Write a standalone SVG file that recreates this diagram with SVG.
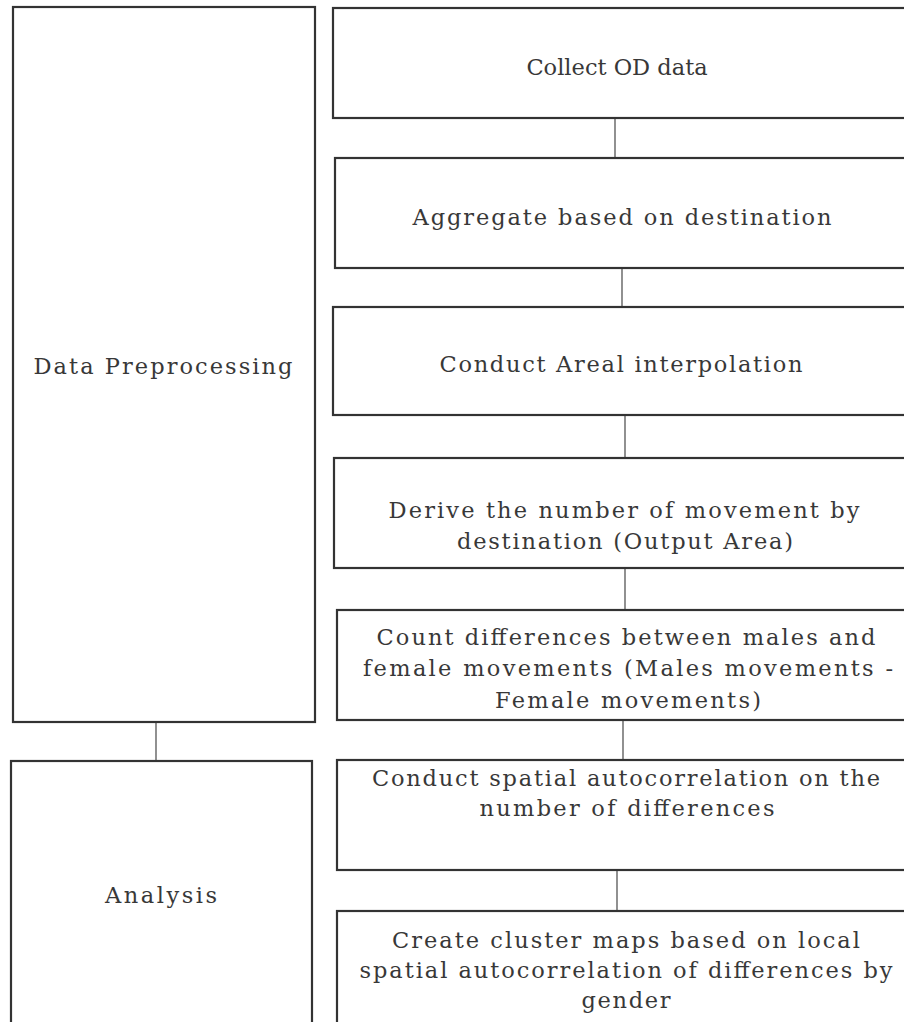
<svg xmlns="http://www.w3.org/2000/svg" width="904" height="1022" viewBox="0 0 904 1022">
<style>
.box{fill:#fff;stroke:#333;stroke-width:2.2}
.con{stroke:#555;stroke-width:1.3;fill:none}
text{font-family:"DejaVu Serif","Liberation Serif",serif;font-size:22.5px;fill:#383838;text-anchor:middle}
</style>
<rect width="904" height="1022" fill="#fff"/>
<g id="connectors">
<line class="con" x1="156" y1="722" x2="156" y2="761"/>
<line class="con" x1="615" y1="118" x2="615" y2="158"/>
<line class="con" x1="622" y1="268" x2="622" y2="307"/>
<line class="con" x1="625" y1="415" x2="625" y2="458"/>
<line class="con" x1="625" y1="568" x2="625" y2="610"/>
<line class="con" x1="623" y1="720" x2="623" y2="760"/>
<line class="con" x1="617" y1="870" x2="617" y2="911"/>
</g>
<g id="data-preprocessing">
<rect class="box" x="13" y="7" width="302" height="715"/>
<text x="163" y="374" textLength="259" lengthAdjust="spacing">Data Preprocessing</text>
</g>
<g id="analysis">
<rect class="box" x="11" y="761" width="301" height="280"/>
<text x="161" y="903" textLength="112" lengthAdjust="spacing">Analysis</text>
</g>
<g id="collect">
<rect class="box" x="333" y="8" width="600" height="110"/>
<text x="617" y="75">Collect OD data</text>
</g>
<g id="aggregate">
<rect class="box" x="335" y="158" width="600" height="110"/>
<text x="622" y="225" textLength="419" lengthAdjust="spacing">Aggregate based on destination</text>
</g>
<g id="areal">
<rect class="box" x="333" y="307" width="600" height="108"/>
<text x="621" y="372" textLength="363" lengthAdjust="spacing">Conduct Areal interpolation</text>
</g>
<g id="derive">
<rect class="box" x="334" y="458" width="600" height="110"/>
<text x="624" y="518" textLength="471" lengthAdjust="spacing">Derive the number of movement by</text>
<text x="625" y="549" textLength="336" lengthAdjust="spacing">destination (Output Area)</text>
</g>
<g id="count">
<rect class="box" x="337" y="610" width="600" height="110"/>
<text x="626" y="645" textLength="499" lengthAdjust="spacing">Count differences between males and</text>
<text x="628" y="676" textLength="530" lengthAdjust="spacing">female movements (Males movements -</text>
<text x="628" y="708" textLength="266" lengthAdjust="spacing">Female movements)</text>
</g>
<g id="spatial">
<rect class="box" x="337" y="760" width="600" height="110"/>
<text x="626" y="786" textLength="508" lengthAdjust="spacing">Conduct spatial autocorrelation on the</text>
<text x="627" y="816" textLength="295" lengthAdjust="spacing">number of differences</text>
</g>
<g id="cluster">
<rect class="box" x="337" y="911" width="600" height="130"/>
<text x="626" y="948" textLength="468" lengthAdjust="spacing">Create cluster maps based on local</text>
<text x="626" y="978" textLength="533" lengthAdjust="spacing">spatial autocorrelation of differences by</text>
<text x="626" y="1008" textLength="89" lengthAdjust="spacing">gender</text>
</g>
</svg>
